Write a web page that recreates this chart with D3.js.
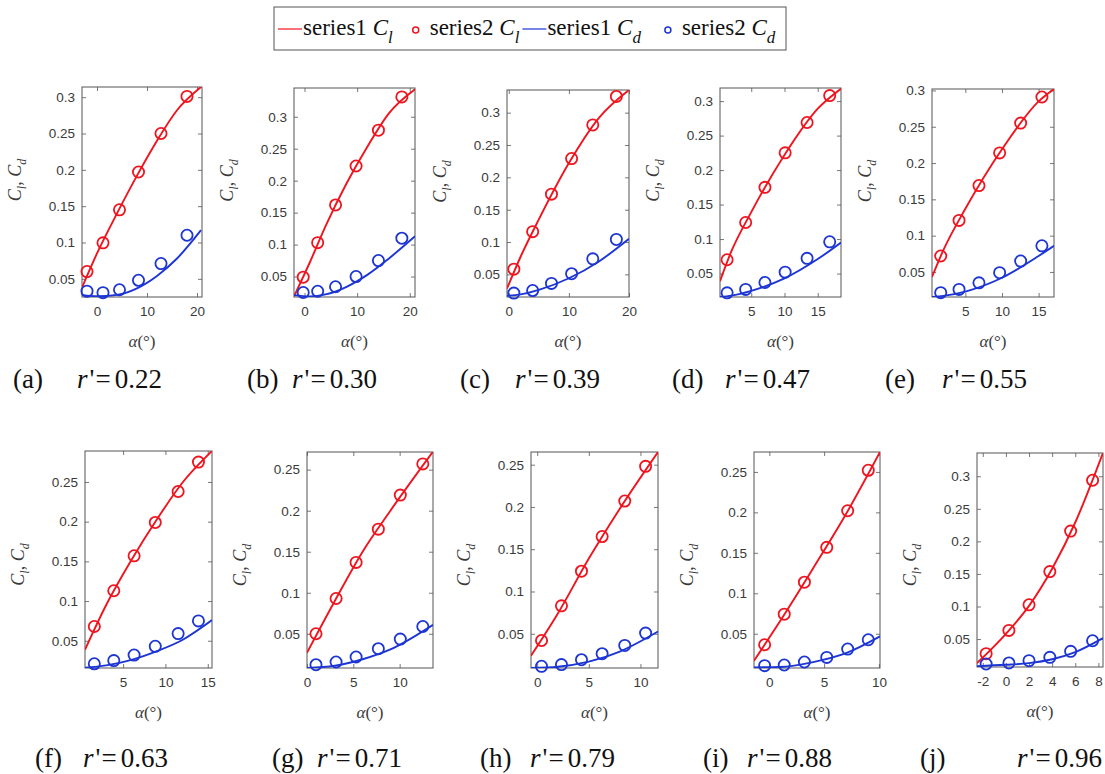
<!DOCTYPE html>
<html><head><meta charset="utf-8">
<script src="https://cdn.jsdelivr.net/npm/d3@7"></script>
<style>
html,body{margin:0;padding:0;background:#fff;}
svg{display:block;}
</style></head>
<body>
<svg id="chart" width="1105" height="774"></svg>
<script>
// ---------------- DATA ----------------
const panelLabels = ["(a)","(b)","(c)","(d)","(e)","(f)","(g)","(h)","(i)","(j)"];
const rValues = ["0.22","0.30","0.39","0.47","0.55","0.63","0.71","0.79","0.88","0.96"];
const xDomains = [[-3,21],[-2,21],[-0.3,20],[0.3,18.5],[0.45,17.1],[0.5,15.5],[0,13.6],[-0.6,11.7],[-1.4,10.1],[-2.5,8.4]];
const yDomains = [[0.025,0.314],[0.018,0.345],[0.015,0.335],[0.016,0.319],[0.0155,0.302],[0.0157,0.289],[0.0083,0.2715],[0.0095,0.265],[0.0077,0.2746],[0.0071,0.3357]];
const xTickVals = [[0,10,20],[0,10,20],[0,10,20],[5,10,15],[5,10,15],[5,10,15],[0,5,10],[0,5,10],[0,5,10],[-2,0,2,4,6,8]];
const yTicks6 = [0.05,0.1,0.15,0.2,0.25,0.3];
const yTicks5 = [0.05,0.1,0.15,0.2,0.25];
const yTickVals = [yTicks6,yTicks6,yTicks6,yTicks6,yTicks6,yTicks5,yTicks5,yTicks5,yTicks5,yTicks6];

// series2 (circles): angle of attack, Cl, Cd
const ptAlpha = [
  [-2,1.2,4.5,8.3,12.8,18],
  [-0.25,2.5,5.9,9.8,14.05,18.5],
  [0.84,3.97,7.1,10.45,13.97,17.9],
  [1.37,4.16,7.06,10.1,13.4,16.8],
  [1.64,4.14,6.86,9.68,12.55,15.45],
  [1.6,3.9,6.3,8.8,11.5,13.9],
  [0.97,3.14,5.3,7.7,10.07,12.5],
  [0.42,2.35,4.29,6.29,8.48,10.5],
  [-0.43,1.36,3.2,5.24,7.15,9.03],
  [-1.71,0.26,2.0,3.8,5.6,7.5]
];
const ptCl = [
  [0.060,0.0995,0.145,0.197,0.250,0.301],
  [0.049,0.103,0.162,0.223,0.279,0.331],
  [0.058,0.116,0.174,0.229,0.281,0.325],
  [0.070,0.124,0.175,0.225,0.269,0.308],
  [0.072,0.121,0.169,0.214,0.255,0.291],
  [0.068,0.113,0.157,0.199,0.238,0.275],
  [0.050,0.093,0.137,0.1775,0.219,0.257],
  [0.042,0.083,0.124,0.165,0.207,0.248],
  [0.0364,0.0742,0.1137,0.1568,0.202,0.252],
  [0.0276,0.0633,0.1026,0.1536,0.2158,0.2939]
];
const ptCd = [
  [0.033,0.031,0.035,0.048,0.071,0.110],
  [0.025,0.027,0.034,0.050,0.075,0.110],
  [0.021,0.025,0.036,0.051,0.074,0.104],
  [0.022,0.027,0.037,0.052,0.072,0.096],
  [0.0215,0.026,0.035,0.049,0.065,0.086],
  [0.021,0.025,0.032,0.043,0.059,0.075],
  [0.0123,0.0156,0.0217,0.0318,0.0435,0.0589],
  [0.0115,0.0135,0.0193,0.0264,0.0362,0.0508],
  [0.0106,0.0114,0.0151,0.0208,0.0311,0.0426],
  [0.0117,0.0133,0.0168,0.0219,0.0311,0.0474]
];
// series1 (lines): read-off points along each fitted curve
const fitAlpha = [
  [-3,0,4,8,12,16,20.8],
  [-2,1,4,8,12,16,21],
  [-0.3,2,5,10,15,20],
  [0.3,2,5,10,15,18.5],
  [0.45,2,5,10,15,17.1],
  [0.5,3,6,9,12,15.5],
  [0,3,6,9,13.6],
  [-0.6,2,5,8,11.7],
  [-1.4,1,4,7,10.1],
  [-2.5,0,2,4,6,8.4]
];
const fitCl = [
  [0.038,0.085,0.140,0.192,0.240,0.282,0.314],
  [0.019,0.072,0.129,0.196,0.254,0.305,0.343],
  [0.028,0.078,0.135,0.222,0.292,0.335],
  [0.039,0.082,0.139,0.222,0.289,0.318],
  [0.043,0.080,0.137,0.219,0.285,0.302],
  [0.0387,0.095,0.152,0.203,0.249,0.289],
  [0.027,0.090,0.150,0.200,0.272],
  [0.024,0.074,0.139,0.198,0.265],
  [0.0167,0.066,0.131,0.198,0.2746],
  [0.013,0.058,0.101,0.158,0.229,0.336]
];
const fitCd = [
  [0.028,0.026,0.028,0.037,0.054,0.078,0.117],
  [0.021,0.019,0.022,0.034,0.053,0.078,0.113],
  [0.017,0.019,0.026,0.044,0.070,0.105],
  [0.016,0.018,0.025,0.043,0.071,0.095],
  [0.0155,0.017,0.023,0.042,0.072,0.086],
  [0.016,0.019,0.026,0.037,0.051,0.076],
  [0.0085,0.011,0.019,0.031,0.061],
  [0.0095,0.011,0.017,0.029,0.0527],
  [0.0085,0.009,0.015,0.026,0.0467],
  [0.0085,0.0105,0.013,0.019,0.030,0.0515]
];
const legendLabels = ["series1","series2","series1","series2"];

// ---------------- LAYOUT ----------------
const boxes = [
  [82,87,202,297],[294,88,415,297],[507,90,629,297],[720,88,841,297],[932,89,1054,297],
  [85,451,212,668],[307,452,433,668],[531,452,658,668],[754,452,880,668],[977,453,1103,667]
];
const capX = [13,247,460,672,885,35,272,480,703,920];
const capRX = [77,292,515,725,942,83,317,530,747,1017];
const RED = "#f0141e", BLUE = "#1c35d4";
const AX = "#555", TXT = "#3a3a3a";

const svg = d3.select("#chart");
svg.append("rect").attr("width",1105).attr("height",774).attr("fill","#fff");

panelLabels.forEach((lab, i) => {
  const [l,t,r,b] = boxes[i];
  const x = d3.scaleLinear().domain(xDomains[i]).range([l,r]);
  const y = d3.scaleLinear().domain(yDomains[i]).range([b,t]);
  const g = svg.append("g");
  const clipId = "clip"+i;
  svg.append("clipPath").attr("id",clipId).append("rect")
     .attr("x",l).attr("y",t).attr("width",r-l).attr("height",b-t);

  g.append("rect").attr("x",l).attr("y",t).attr("width",r-l).attr("height",b-t)
   .attr("fill","#fff").attr("stroke",AX).attr("stroke-width",1);

  const styleAxis = sel => {
    sel.select(".domain").remove();
    sel.selectAll(".tick line").attr("stroke",AX).attr("stroke-width",0.8);
    sel.selectAll(".tick text").attr("fill",TXT)
       .style("font-family","'Liberation Sans', Arial, sans-serif").style("font-size","13.5px");
  };
  g.append("g").attr("transform",`translate(${l},0)`)
   .call(d3.axisLeft(y).tickValues(yTickVals[i]).tickSize(-4).tickPadding(7).tickFormat(d=>String(d)))
   .call(styleAxis);
  g.append("g").attr("transform",`translate(${r},0)`)
   .call(d3.axisRight(y).tickValues(yTickVals[i]).tickSize(-4).tickFormat(""))
   .call(styleAxis);
  g.append("g").attr("transform",`translate(0,${b})`)
   .call(d3.axisBottom(x).tickValues(xTickVals[i]).tickSize(-4).tickPadding(9).tickFormat(d=>String(d)))
   .call(styleAxis);
  g.append("g").attr("transform",`translate(0,${t})`)
   .call(d3.axisTop(x).tickValues(xTickVals[i]).tickSize(-4).tickFormat(""))
   .call(styleAxis);

  const line = d3.line().x(d=>x(d[0])).y(d=>y(d[1])).curve(d3.curveMonotoneX);
  const clData = fitAlpha[i].map((a,k)=>[a,fitCl[i][k]]);
  const cdData = fitAlpha[i].map((a,k)=>[a,fitCd[i][k]]);
  const lines = g.append("g").attr("clip-path",`url(#${clipId})`);
  lines.append("path").attr("d",line(clData)).attr("fill","none").attr("stroke",RED).attr("stroke-width",1.9);
  lines.append("path").attr("d",line(cdData)).attr("fill","none").attr("stroke",BLUE).attr("stroke-width",1.9);

  g.selectAll(".pcl").data(ptAlpha[i].map((a,k)=>[a,ptCl[i][k]])).enter().append("circle")
   .attr("cx",d=>x(d[0])).attr("cy",d=>y(d[1])).attr("r",5.6)
   .attr("fill","none").attr("stroke",RED).attr("stroke-width",1.8);
  g.selectAll(".pcd").data(ptAlpha[i].map((a,k)=>[a,ptCd[i][k]])).enter().append("circle")
   .attr("cx",d=>x(d[0])).attr("cy",d=>y(d[1])).attr("r",5.6)
   .attr("fill","none").attr("stroke",BLUE).attr("stroke-width",1.8);

  // x label
  const xl = g.append("text").attr("x",(l+r)/2).attr("y",b+50).attr("text-anchor","middle")
    .attr("fill",TXT).style("font-family","'Liberation Serif', serif").style("font-size","17px");
  xl.append("tspan").style("font-style","italic").text("α");
  xl.append("tspan").text("(°)");

  // y label
  const row = i < 5 ? 0 : 1;
  const cy = (t+b)/2 + (row===0 ? -12 : 5);
  const yl = g.append("text").attr("transform",`translate(${l-61},${cy}) rotate(-90)`)
    .attr("text-anchor","middle").attr("fill",TXT)
    .style("font-family","'Liberation Serif', serif").style("font-size","18px").style("font-style","italic");
  yl.append("tspan").text("C");
  yl.append("tspan").attr("dy",5).style("font-size","12px").text("l");
  yl.append("tspan").attr("dy",-5).style("font-style","normal").text(", ");
  yl.append("tspan").text("C");
  yl.append("tspan").attr("dy",5).style("font-size","12px").text("d");

  // caption
  const capY = row===0 ? 388 : 767;
  const cap = svg.append("text").attr("y",capY).attr("fill","#111")
    .style("font-family","'Liberation Serif', 'Times New Roman', serif").style("font-size","27px");
  cap.append("tspan").attr("x",capX[i]).text(lab);
  cap.append("tspan").attr("x",capRX[i]).style("font-style","italic").text("r");
  cap.append("tspan").attr("dx",2).text("'");
  cap.append("tspan").attr("dx",1).text("=");
  cap.append("tspan").attr("dx",4).text(rValues[i]);
});

// ---------------- LEGEND ----------------
const lg = svg.append("g");
lg.append("rect").attr("x",274).attr("y",7).attr("width",512).attr("height",43)
  .attr("fill","#fff").attr("stroke",AX).attr("stroke-width",1);
const legFont = "'Liberation Serif', 'Times New Roman', serif";
function legText(x0, name, sub){
  const t = lg.append("text").attr("x",x0).attr("y",35).attr("fill","#111")
    .style("font-family",legFont).style("font-size","23px");
  t.append("tspan").text(name+" ");
  t.append("tspan").style("font-style","italic").text("C");
  t.append("tspan").attr("dy",8).style("font-style","italic").style("font-size","17px").text(sub);
  return t;
}
lg.append("line").attr("x1",278).attr("x2",302).attr("y1",29).attr("y2",29).attr("stroke",RED).attr("stroke-width",1.2);
const t1 = legText(303, legendLabels[0], "l");
let e1 = 303 + t1.node().getComputedTextLength();
lg.append("circle").attr("cx",e1+23).attr("cy",30).attr("r",3).attr("fill","none").attr("stroke",RED).attr("stroke-width",1.5);
const t2 = legText(e1+37, legendLabels[1], "l");
let e2 = e1+37 + t2.node().getComputedTextLength();
lg.append("line").attr("x1",e2+3).attr("x2",e2+27).attr("y1",29).attr("y2",29).attr("stroke",BLUE).attr("stroke-width",1.2);
const t3 = legText(e2+28, legendLabels[2], "d");
let e3 = e2+28 + t3.node().getComputedTextLength();
lg.append("circle").attr("cx",e3+27).attr("cy",30).attr("r",3).attr("fill","none").attr("stroke",BLUE).attr("stroke-width",1.5);
legText(e3+41, legendLabels[3], "d");
</script>
</body></html>
